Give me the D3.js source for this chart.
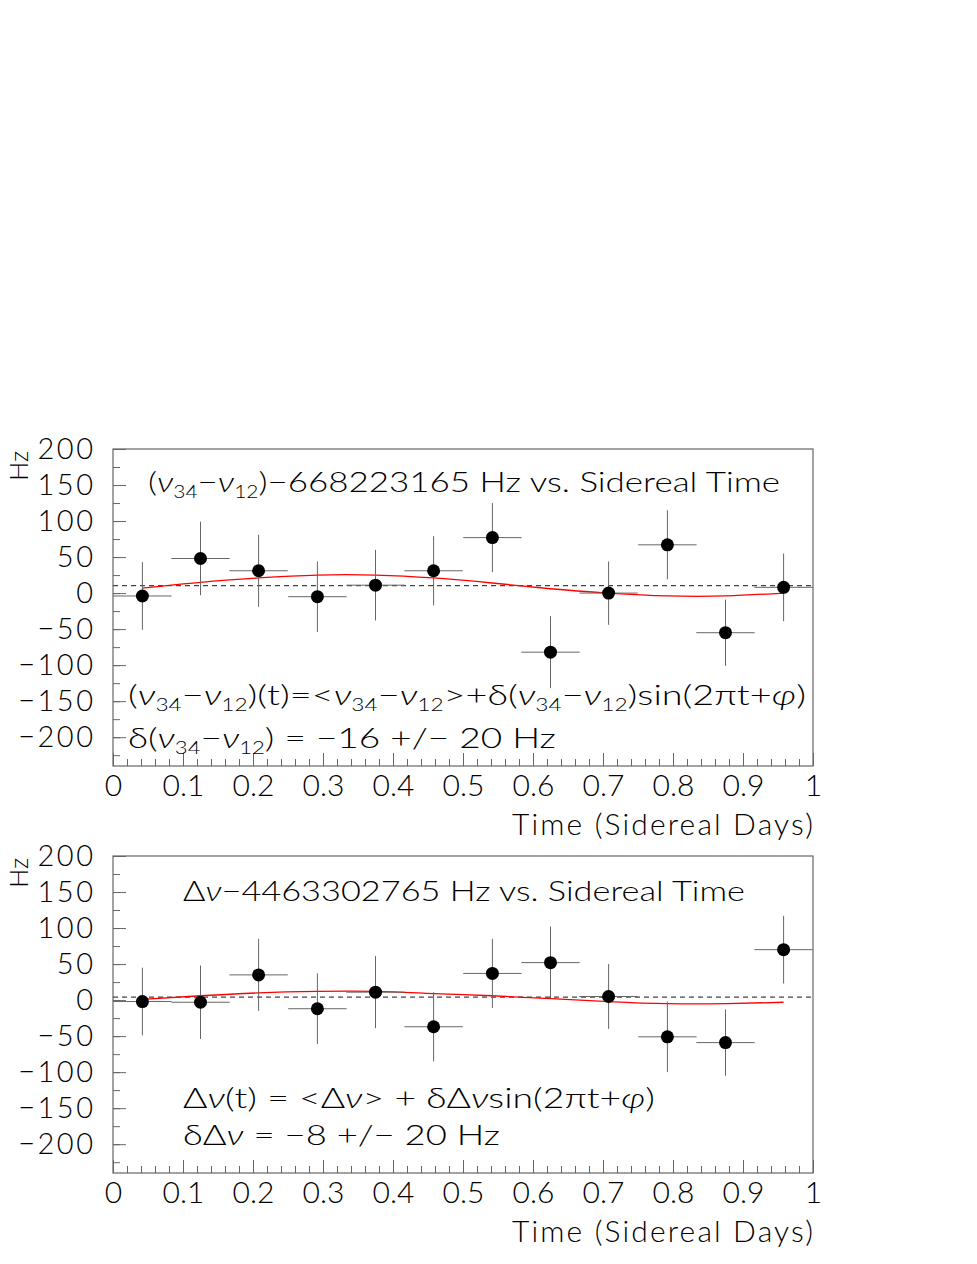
<!DOCTYPE html>
<html>
<head>
<meta charset="utf-8">
<script src="https://cdn.jsdelivr.net/npm/d3@7"></script>
<style>
  body { margin: 0; background: #fff; }
  text { font-family: Lato, "DejaVu Sans", sans-serif; font-weight: 300; fill: #000; }
</style>
</head>
<body>
<div id="chart"></div>
<script>
// bin centres (sidereal days), 12 bins
const timeBins = [0.042, 0.125, 0.208, 0.292, 0.375, 0.458, 0.542, 0.625, 0.708, 0.792, 0.875, 0.958];
const binHalfWidth = 0.0417;

// (nu34 - nu12) - 668223165 Hz
const topValues = [-4, 48, 31, -5, 11, 31, 77, -82, 0, 67, -55, 8];
const topErrors = [47, 51, 50, 49, 49, 48, 48, 50, 44, 48, 46, 47];
const topFit = [7, 15, 21, 25, 25, 21, 14, 6, 0, -4, -4, 0];
const topMean = 10.5;

// delta nu - 4463302765 Hz
const bottomValues = [-2, -3, 35, -12, 11, -37, 37, 52, 5, -51, -59, 70];
const bottomErrors = [47, 51, 50, 49, 50, 48, 48, 50, 45, 49, 46, 47];
const bottomFit = [1, 6, 10, 12, 12, 9, 6, 2, -2, -5, -5, -3];
const bottomMean = 4;

const yTicks = [-200, -150, -100, -50, 0, 50, 100, 150, 200];
const xTicks = [0, 0.1, 0.2, 0.3, 0.4, 0.5, 0.6, 0.7, 0.8, 0.9, 1];

const width = 977;
const height = 1264;
const marginLeft = 113;
const plotRight = 813;

const svg = d3.select("#chart")
  .append("svg")
  .attr("width", width)
  .attr("height", height)
  .attr("viewBox", [0, 0, width, height]);

const x = d3.scaleLinear().domain([0, 1]).range([marginLeft, plotRight]);

const nu = "\u03BD";
const minus = "\u2212";

// pieces of text: [string, kind]  kind 1 = subscript, 2 = italic greek
function richText(g, parts, px, py, size, len) {
  const t = g.append("text")
    .attr("x", px)
    .attr("y", py)
    .attr("font-size", size)
    .attr("textLength", len)
    .attr("lengthAdjust", "spacingAndGlyphs");
  let sub = false;
  parts.forEach(([s, kind]) => {
    const sp = t.append("tspan").text(s);
    const isSub = kind === 1;
    if (isSub) sp.attr("font-size", size * 0.6);
    if (kind === 2) sp.attr("font-style", "italic");
    if (isSub && !sub) sp.attr("dy", size * 0.2);
    else if (!isSub && sub) sp.attr("dy", -size * 0.2);
    sub = isSub;
  });
  return t;
}

function panel(top, bottom, values, errors, fit, mean, texts) {
  const y = d3.scaleLinear().domain([-240, 200]).range([bottom, top]);
  const g = svg.append("g");

  // frame
  g.append("rect")
    .attr("x", marginLeft)
    .attr("y", top)
    .attr("width", plotRight - marginLeft)
    .attr("height", bottom - top)
    .attr("fill", "none")
    .attr("stroke", "#666")
    .attr("stroke-width", 1.2);

  // inward ticks, left
  g.append("g")
    .attr("transform", `translate(${marginLeft},0)`)
    .call(d3.axisRight(y).tickValues(d3.range(-225, 200, 25)).tickSize(7).tickFormat(""))
    .call((a) => a.select(".domain").remove())
    .selectAll("line").attr("stroke", "#666");
  g.append("g")
    .attr("transform", `translate(${marginLeft},0)`)
    .call(d3.axisRight(y).tickValues(yTicks).tickSize(13).tickFormat(""))
    .call((a) => a.select(".domain").remove())
    .selectAll("line").attr("stroke", "#666");

  // inward ticks, bottom
  g.append("g")
    .attr("transform", `translate(0,${bottom})`)
    .call(d3.axisTop(x).tickValues(d3.range(0.02, 1, 0.02)).tickSize(7).tickFormat(""))
    .call((a) => a.select(".domain").remove())
    .selectAll("line").attr("stroke", "#666");
  g.append("g")
    .attr("transform", `translate(0,${bottom})`)
    .call(d3.axisTop(x).tickValues(xTicks).tickSize(13).tickFormat(""))
    .call((a) => a.select(".domain").remove())
    .selectAll("line").attr("stroke", "#666");

  // labels
  const yl = g.append("g")
    .attr("transform", `translate(${marginLeft},0)`)
    .call(d3.axisLeft(y).tickValues(yTicks).tickSize(0).tickPadding(17.5)
      .tickFormat((d) => (d < 0 ? minus + Math.abs(d) : d)));
  yl.select(".domain").remove();
  yl.attr("font-family", null).attr("font-size", null);
  yl.selectAll("text")
    .attr("font-size", 29)
    .attr("letter-spacing", 2.5)
    .attr("fill", "#000");

  const xl = g.append("g")
    .attr("transform", `translate(0,${bottom})`)
    .call(d3.axisBottom(x).tickValues(xTicks).tickSize(0).tickPadding(9)
      .tickFormat((d) => String(d)));
  xl.select(".domain").remove();
  xl.attr("font-family", null).attr("font-size", null);
  xl.selectAll("text").attr("font-size", 30).attr("fill", "#000");

  g.append("text")
    .attr("x", plotRight)
    .attr("y", bottom + 69)
    .attr("text-anchor", "end")
    .attr("font-size", 30)
    .attr("textLength", 301)
    .text("Time (Sidereal Days)");

  g.append("text")
    .attr("transform", `translate(28,${top + 2}) rotate(-90)`)
    .attr("text-anchor", "end")
    .attr("font-size", 25)
    .text("Hz");

  // mean (dashed)
  g.append("line")
    .attr("x1", x(0))
    .attr("x2", x(1))
    .attr("y1", y(mean))
    .attr("y2", y(mean))
    .attr("stroke", "#444")
    .attr("stroke-width", 1.2)
    .attr("stroke-dasharray", "5,4");

  // fit curve
  g.append("path")
    .datum(timeBins.map((t, i) => [t, fit[i]]))
    .attr("fill", "none")
    .attr("stroke", "#f00")
    .attr("stroke-width", 1.3)
    .attr("d", d3.line().x((d) => x(d[0])).y((d) => y(d[1])).curve(d3.curveNatural));

  const pts = timeBins.map((t, i) => ({ t, v: values[i], e: errors[i] }));

  g.append("g")
    .attr("stroke", "#666")
    .attr("stroke-width", 1)
    .selectAll("line.h")
    .data(pts)
    .join("line")
    .attr("x1", (d) => x(d.t - binHalfWidth))
    .attr("x2", (d) => x(d.t + binHalfWidth))
    .attr("y1", (d) => y(d.v))
    .attr("y2", (d) => y(d.v));

  g.append("g")
    .attr("stroke", "#666")
    .attr("stroke-width", 1)
    .selectAll("line.v")
    .data(pts)
    .join("line")
    .attr("x1", (d) => x(d.t))
    .attr("x2", (d) => x(d.t))
    .attr("y1", (d) => y(d.v - d.e))
    .attr("y2", (d) => y(d.v + d.e));

  g.append("g")
    .selectAll("circle")
    .data(pts)
    .join("circle")
    .attr("cx", (d) => x(d.t))
    .attr("cy", (d) => y(d.v))
    .attr("r", 6.5)
    .attr("fill", "#000");

  texts.forEach((tx) => richText(g, tx.parts, tx.x, tx.y, tx.size, tx.len));
}

panel(449, 766, topValues, topErrors, topFit, topMean, [
  { x: 148, y: 492, size: 28, len: 632,
    parts: [["("], [nu, 2], ["34", 1], [minus], [nu, 2], ["12", 1], [")" + minus + "668223165 Hz vs. Sidereal Time"]] },
  { x: 128, y: 705, size: 28, len: 678,
    parts: [["("], [nu, 2], ["34", 1], [minus], [nu, 2], ["12", 1], [")(t)=<"], [nu, 2], ["34", 1], [minus], [nu, 2], ["12", 1],
      [">+\u03B4("], [nu, 2], ["34", 1], [minus], [nu, 2], ["12", 1], [")sin(2\u03C0t+"], ["\u03C6", 2], [")"]] },
  { x: 128, y: 748, size: 28, len: 428,
    parts: [["\u03B4("], [nu, 2], ["34", 1], [minus], [nu, 2], ["12", 1], [") = " + minus + "16 +/" + minus + " 20 Hz"]] },
]);

panel(856, 1173, bottomValues, bottomErrors, bottomFit, bottomMean, [
  { x: 183, y: 901, size: 28, len: 562,
    parts: [["\u0394"], [nu, 2], [minus + "4463302765 Hz vs. Sidereal Time"]] },
  { x: 183, y: 1108, size: 28, len: 472,
    parts: [["\u0394"], [nu, 2], ["(t) = <\u0394"], [nu, 2], ["> + \u03B4\u0394"], [nu, 2], ["sin(2\u03C0t+"], ["\u03C6", 2], [")"]] },
  { x: 183, y: 1145, size: 28, len: 317,
    parts: [["\u03B4\u0394"], [nu, 2], [" = " + minus + "8 +/" + minus + " 20 Hz"]] },
]);
</script>
</body>
</html>
